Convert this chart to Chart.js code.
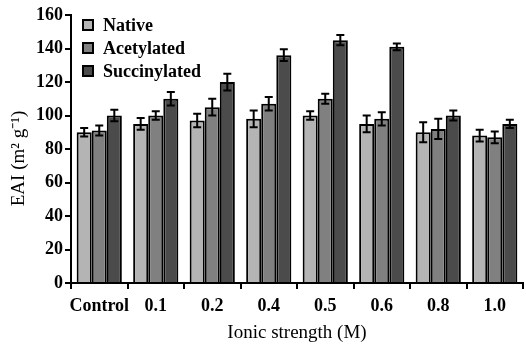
<!DOCTYPE html>
<html>
<head>
<meta charset="utf-8">
<script src="https://cdn.jsdelivr.net/npm/chart.js@4/dist/chart.umd.min.js"></script>
<style>
html,body{margin:0;padding:0;background:#fff;}
#wrap{width:526px;height:348px;}
</style>
</head>
<body>
<div id="wrap"><canvas id="c" width="526" height="348"></canvas></div>
<script>
const categories = ['Control', '0.1', '0.2', '0.4', '0.5', '0.6', '0.8', '1.0'];
const seriesNames = ['Native', 'Acetylated', 'Succinylated'];
const nativeValues = [90, 95, 97, 98, 100, 95, 90, 88];
const acetylatedValues = [91, 100, 105, 107, 110, 98, 92, 87];
const succinylatedValues = [100, 110, 120, 136, 145, 141, 100, 95];
const nativeErrors = [2.5, 3.5, 4, 5, 2.5, 5, 6, 3.5];
const acetylatedErrors = [3, 2.5, 5, 4, 3, 4, 6, 3.5];
const succinylatedErrors = [3.5, 4, 5, 3.5, 3, 2, 3, 2.5];
const yTicks = [0, 20, 40, 60, 80, 100, 120, 140, 160];

const colors = ['#b4b4b4', '#808080', '#4b4b4b'];
const values = [nativeValues, acetylatedValues, succinylatedValues];
const errors = [nativeErrors, acetylatedErrors, succinylatedErrors];
const serif = "'Liberation Serif', 'Times New Roman', serif";

const errorBarPlugin = {
  id: 'errorBars',
  afterDatasetsDraw(chart) {
    const ctx = chart.ctx;
    const y = chart.scales.y;
    ctx.save();
    ctx.strokeStyle = '#000';
    ctx.lineWidth = 2;
    chart.data.datasets.forEach((ds, di) => {
      const meta = chart.getDatasetMeta(di);
      meta.data.forEach((bar, i) => {
        const v = ds.data[i], e = ds.errors[i];
        const x = bar.x;
        const yt = y.getPixelForValue(v + e);
        const yb = y.getPixelForValue(v - e);
        const cap = 4;
        ctx.beginPath();
        ctx.moveTo(x, yt); ctx.lineTo(x, yb);
        ctx.moveTo(x - cap, yt); ctx.lineTo(x + cap, yt);
        ctx.moveTo(x - cap, yb); ctx.lineTo(x + cap, yb);
        ctx.stroke();
      });
    });
    ctx.restore();
  }
};

const legendPlugin = {
  id: 'innerLegend',
  afterDraw(chart) {
    const ctx = chart.ctx;
    ctx.save();
    ctx.font = 'bold 18px ' + serif;
    ctx.textBaseline = 'middle';
    ctx.textAlign = 'left';
    chart.data.datasets.forEach((ds, i) => {
      const cy = 25 + i * 23;
      ctx.fillStyle = ds.backgroundColor;
      ctx.fillRect(83, cy - 5, 10, 10);
      ctx.strokeStyle = '#000';
      ctx.lineWidth = 2;
      ctx.strokeRect(83, cy - 5, 10, 10);
      ctx.fillStyle = '#000';
      ctx.fillText(ds.label, 103, cy + 1);
    });
    ctx.restore();
  }
};

new Chart(document.getElementById('c'), {
  type: 'bar',
  data: {
    labels: categories,
    datasets: seriesNames.map((name, i) => ({
      label: name,
      data: values[i],
      errors: errors[i],
      backgroundColor: colors[i],
      borderColor: '#000',
      borderWidth: 2,
      categoryPercentage: 0.8,
      barPercentage: 1.0
    }))
  },
  options: {
    responsive: false,
    animation: false,
    devicePixelRatio: 1,
    layout: { padding: { top: 15, right: 3, left: 0, bottom: 0 } },
    plugins: {
      legend: { display: false },
      tooltip: { enabled: false }
    },
    scales: {
      x: {
        afterFit(s) { s.height = 65; },
        grid: { offset: true, drawOnChartArea: false, color: '#000', lineWidth: 2, tickLength: 6 },
        border: { display: true, color: '#000', width: 2 },
        ticks: { color: '#000', font: { family: serif, size: 18, weight: 'bold' }, padding: 7, maxRotation: 0, autoSkip: false },
        title: { display: true, text: 'Ionic strength (M)', color: '#000', font: { family: serif, size: 19 }, padding: { top: 0, bottom: 4 } }
      },
      y: {
        min: 0, max: 160,
        afterFit(s) { s.width = 71; },
        afterBuildTicks(s) { s.ticks = yTicks.map(v => ({ value: v })); },
        grid: { drawOnChartArea: false, color: '#000', lineWidth: 2, tickLength: 6 },
        border: { display: true, color: '#000', width: 2 },
        ticks: { color: '#000', font: { family: serif, size: 18, weight: 'bold' }, padding: 2 },
        title: { display: true, text: 'EAI (m² g⁻¹)\u00A0\u00A0\u00A0\u00A0', color: '#000', font: { family: serif, size: 19 }, padding: { top: 8, bottom: 0 } }
      }
    }
  },
  plugins: [errorBarPlugin, legendPlugin]
});
</script>
</body>
</html>
